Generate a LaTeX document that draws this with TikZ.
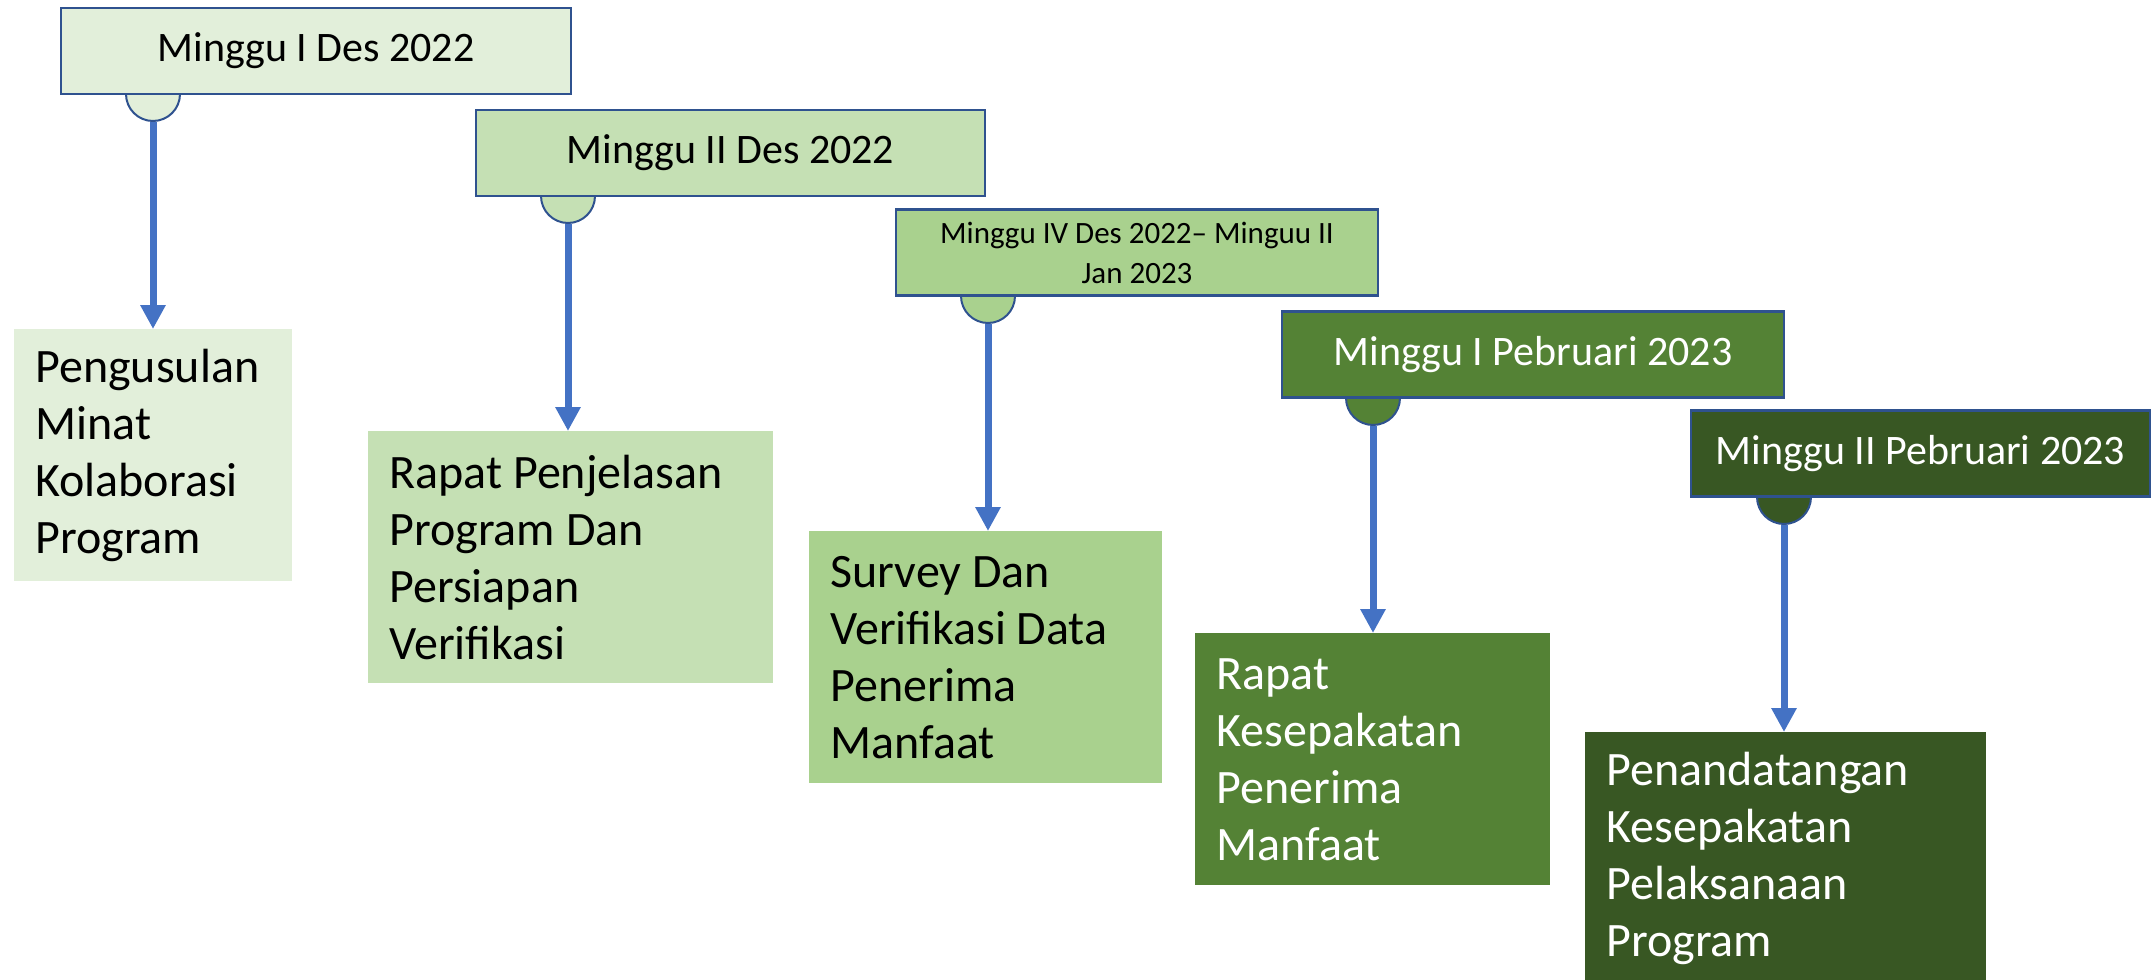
\documentclass[tikz,border=0pt]{standalone}
\usepackage{fontspec}
\setmainfont{Carlito}
\usepackage{tikz}
\usetikzlibrary{arrows.meta}

\definecolor{greenA}{HTML}{E2EFDA}
\definecolor{greenB}{HTML}{C5E0B4}
\definecolor{greenC}{HTML}{A9D18E}
\definecolor{greenD}{HTML}{548235}
\definecolor{greenE}{HTML}{385723}
\definecolor{edgeblue}{HTML}{2F528F}
\definecolor{arrowblue}{HTML}{4472C4}

\begin{document}
\begin{tikzpicture}[x=0.5pt,y=-0.5pt,
  week_box/.style={draw=edgeblue, line width=1.1pt, inner sep=0pt,
    minimum height=43pt, font=\fontsize{21}{25}\selectfont},
  task_box/.style={anchor=north west, inner xsep=10.5pt, inner ysep=0pt,
    minimum height=126pt, align=flush left, font=\fontsize{24}{28.5}\selectfont},
  week_dot/.style={circle, draw=edgeblue, line width=1pt,
    minimum size=27pt, inner sep=0pt},
  paths/.style={-{Triangle[width=12pt,length=12pt]}, line width=3.5pt, draw=arrowblue}]

 \useasboundingbox (0,0) rectangle (2154,980);

 % dots under the week boxes
 \node [week_dot, fill=greenA] (dot_1) at (153,94) {};
 \node [week_dot, fill=greenB] (dot_2) at (568,196) {};
 \node [week_dot, fill=greenC] (dot_3) at (988,296) {};
 \node [week_dot, fill=greenD] (dot_4) at (1373,398) {};
 \node [week_dot, fill=greenE] (dot_5) at (1784,497) {};

 % week boxes
 \node [week_box, fill=greenA, minimum width=255pt] (week_1) at (316,51)
     {Minggu I Des 2022};

 \node [week_box, fill=greenB, minimum width=254.5pt] (week_2) at (730.5,153)
     {Minggu II Des 2022};

 \node [week_box, fill=greenC, minimum width=241pt, align=center,
        font=\fontsize{15.5}{20}\selectfont] (week_3) at (1137,252.5)
     {Minggu IV Des 2022-- Minguu II\\Jan 2023};

 \node [week_box, fill=greenD, minimum width=251pt, text=white] (week_4) at (1533,354.5)
     {Minggu I Pebruari 2023};

 \node [week_box, fill=greenE, minimum width=229.5pt, text=white] (week_5) at (1920.5,453.5)
     {Minggu II Pebruari 2023};

 % tasks
 \node [task_box, fill=greenA, text width=118pt] (task_1) at (14,329)
     {Pengusulan\\Minat\\Kolaborasi\\Program};

 \node [task_box, fill=greenB, text width=181.5pt] (task_2) at (368,431)
     {Rapat Penjelasan\\Program Dan\\Persiapan\\Verifikasi};

 \node [task_box, fill=greenC, text width=155.5pt] (task_3) at (809,531)
     {Survey Dan\\Verifikasi Data\\Penerima\\Manfaat};

 \node [task_box, fill=greenD, text width=156.5pt, text=white] (task_4) at (1195,633)
     {Rapat\\Kesepakatan\\Penerima\\Manfaat};

 \node [task_box, fill=greenE, text width=179.5pt, text=white] (task_5) at (1585,732)
     {Penandatangan\\Kesepakatan\\Pelaksanaan\\Program};

 \draw [paths] (dot_1.south) -- (dot_1.south |- task_1.north);
 \draw [paths] (dot_2.south) -- (dot_2.south |- task_2.north);
 \draw [paths] (dot_3.south) -- (dot_3.south |- task_3.north);
 \draw [paths] (dot_4.south) -- (dot_4.south |- task_4.north);
 \draw [paths] (dot_5.south) -- (dot_5.south |- task_5.north);

\end{tikzpicture}
\end{document}
